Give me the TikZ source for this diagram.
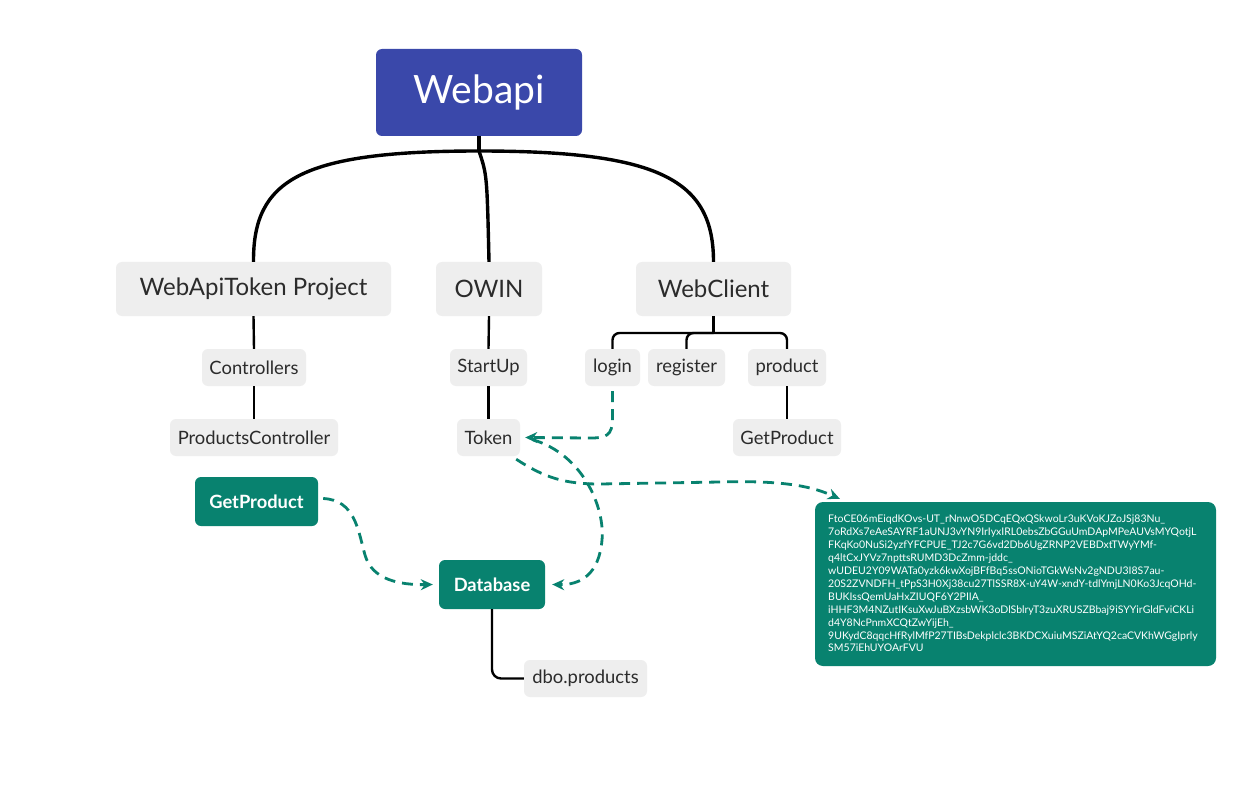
\documentclass[tikz,border=0pt]{standalone}
\usepackage{fontspec}
\setmainfont{Lato}
\usetikzlibrary{arrows.meta}
\definecolor{rootblue}{HTML}{3A48AA}
\definecolor{teal}{HTML}{08826F}
\definecolor{nodegray}{HTML}{EEEEEE}
\definecolor{txt}{HTML}{2B2B2B}
\tikzset{
  rootbox/.style={fill=rootblue, rounded corners=6pt, text=white, inner sep=0pt,
    minimum width=206pt, minimum height=87pt, font=\fontsize{39}{42}\selectfont},
  lvlone/.style={fill=nodegray, rounded corners=6pt, text=txt, inner sep=0pt,
    minimum height=54pt, font=\fontsize{24}{28}\selectfont},
  lvltwo/.style={fill=nodegray, rounded corners=6pt, text=txt, inner sep=0pt,
    minimum height=37pt, font=\fontsize{18.4}{21}\selectfont},
  greenbox/.style={fill=teal, rounded corners=6pt, text=white, inner sep=0pt,
    minimum height=49pt, font=\fontsize{18.3}{21}\selectfont\bfseries},
  mainline/.style={draw=black, line width=3.4pt},
  subline/.style={draw=black, line width=2.4pt},
  dashlink/.style={draw=teal, line width=2.8pt, dash pattern=on 11pt off 7pt,
    -{Stealth[length=12pt,width=11pt]}},
}
\begin{document}
\begin{tikzpicture}[x=1pt,y=-1pt]
\useasboundingbox[fill=white] (0,0) rectangle (1247,802);
% nodes
\node[rootbox] (root) at (479,92.5) {Webapi};
\node[lvlone, minimum width=275pt] (wat) at (253.5,289) {WebApiToken Project};
\node[lvlone, minimum width=106pt] (owin) at (489,289) {OWIN};
\node[lvlone, minimum width=155pt] (wc) at (713.5,289) {WebClient};
\node[lvltwo, minimum width=104pt] (ctrl) at (254,367.5) {Controllers};
\node[lvltwo, minimum width=168pt] (pc) at (254,437.5) {ProductsController};
\node[lvltwo, minimum width=77pt] (startup) at (488.5,367.5) {StartUp};
\node[lvltwo, minimum width=63pt] (token) at (488.5,437.5) {Token};
\node[lvltwo, minimum width=55pt] (login) at (612.5,367.5) {login};
\node[lvltwo, minimum width=77pt] (register) at (686.5,367.5) {register};
\node[lvltwo, minimum width=78pt] (product) at (787,367.5) {product};
\node[lvltwo, minimum width=108pt] (gp) at (787,437.5) {GetProduct};
\node[greenbox, minimum width=123pt] (gpg) at (256.5,501.5) {GetProduct};
\node[greenbox, minimum width=106pt] (db) at (492,584.5) {Database};
\node[lvltwo, minimum width=123pt] (dbo) at (585.5,678.5) {dbo.products};
\node[fill=teal, rounded corners=8pt, inner sep=0pt, minimum width=401pt, minimum height=164pt] (tb) at (1015.5,584) {};
\node[anchor=north west, text=white, align=left, inner sep=0pt,
  font=\fontsize{10.5}{12.9}\selectfont] (tbtext) at (828,515) {FtoCE06mEiqdKOvs-UT\_rNnwO5DCqEQxQSkwoLr3uKVoKJZoJSj83Nu\_\\
7oRdXs7eAeSAYRF1aUNJ3vYN9IrIyxIRL0ebsZbGGuUmDApMPeAUVsMYQotjL\\
FKqKo0NuSi2yzfYFCPUE\_TJ2c7G6vd2Db6UgZRNP2VEBDxtTWyYMf-\\
q4ltCxJYVz7npttsRUMD3DcZmm-jddc\_\\
wUDEU2Y09WATa0yzk6kwXojBFfBq5ssONioTGkWsNv2gNDU3I8S7au-\\
20S2ZVNDFH\_tPpS3H0Xj38cu27TlSSR8X-uY4W-xndY-tdlYmjLN0Ko3JcqOHd-\\
BUKIssQemUaHxZIUQF6Y2PIIA\_\\
iHHF3M4NZutIKsuXwJuBXzsbWK3oDlSblryT3zuXRUSZBbaj9iSYYirGldFviCKLi\\
d4Y8NcPnmXCQtZwYijEh\_\\
9UKydC8qqcHfRylMfP27TIBsDekplclc3BKDCXuiuMSZiAtYQ2caCVKhWGgIprly\\
SM57iEhUYOArFVU};
% main connectors
\coordinate (hub) at (479,151);
\draw[mainline] (root.south) -- (hub);
\draw[mainline] (hub) .. controls (300,151) and (253,180) .. (wat.north);
\draw[mainline] (hub) .. controls (487,175) .. (owin.north);
\draw[mainline] (hub) .. controls (660,151) and (713.5,180) .. (wc.north);
% sub connectors
\draw[subline] (wat.south) -- (ctrl.north);
\draw[subline] (ctrl.south) -- (pc.north);
\draw[subline] (owin.south) -- (startup.north);
\draw[subline] (startup.south) -- (token.north);
\coordinate (wcj) at (713.5,333);
\draw[subline] (wc.south) -- (wcj);
\draw[subline, rounded corners=7pt] (login.north) -- (612.5,333) -- (787,333) -- (product.north);
\draw[subline, rounded corners=7pt] (register.north) -- (686.5,333) -- (wcj);
\draw[subline] (product.south) -- (gp.north);
\draw[subline, rounded corners=9pt] (db.south) |- (dbo.west);
% dashed links
\draw[dashlink] ([yshift=-5pt]login.south) -- (612.5,418) .. controls (612.5,436) and (606,438) .. (590,438) -- ([xshift=5pt]token.east);
\draw[dashlink] ([xshift=-4pt,yshift=-3pt]token.south east) .. controls (545,478) and (565,484) .. (600,484) -- (720,482) .. controls (790,480) and (815,488) .. ([xshift=25pt,yshift=3pt]tb.north west);
\draw[dashlink] ([xshift=12pt,yshift=-2pt]token.east) .. controls (585,455) and (605,510) .. (602,540) .. controls (599,575) and (580,585) .. ([xshift=7pt]db.east);
\draw[dashlink] ([xshift=5pt,yshift=3pt]gpg.east) .. controls (355,500) and (358,530) .. (365,555) .. controls (372,580) and (400,585) .. ([xshift=-6pt]db.west);
\end{tikzpicture}
\end{document}
